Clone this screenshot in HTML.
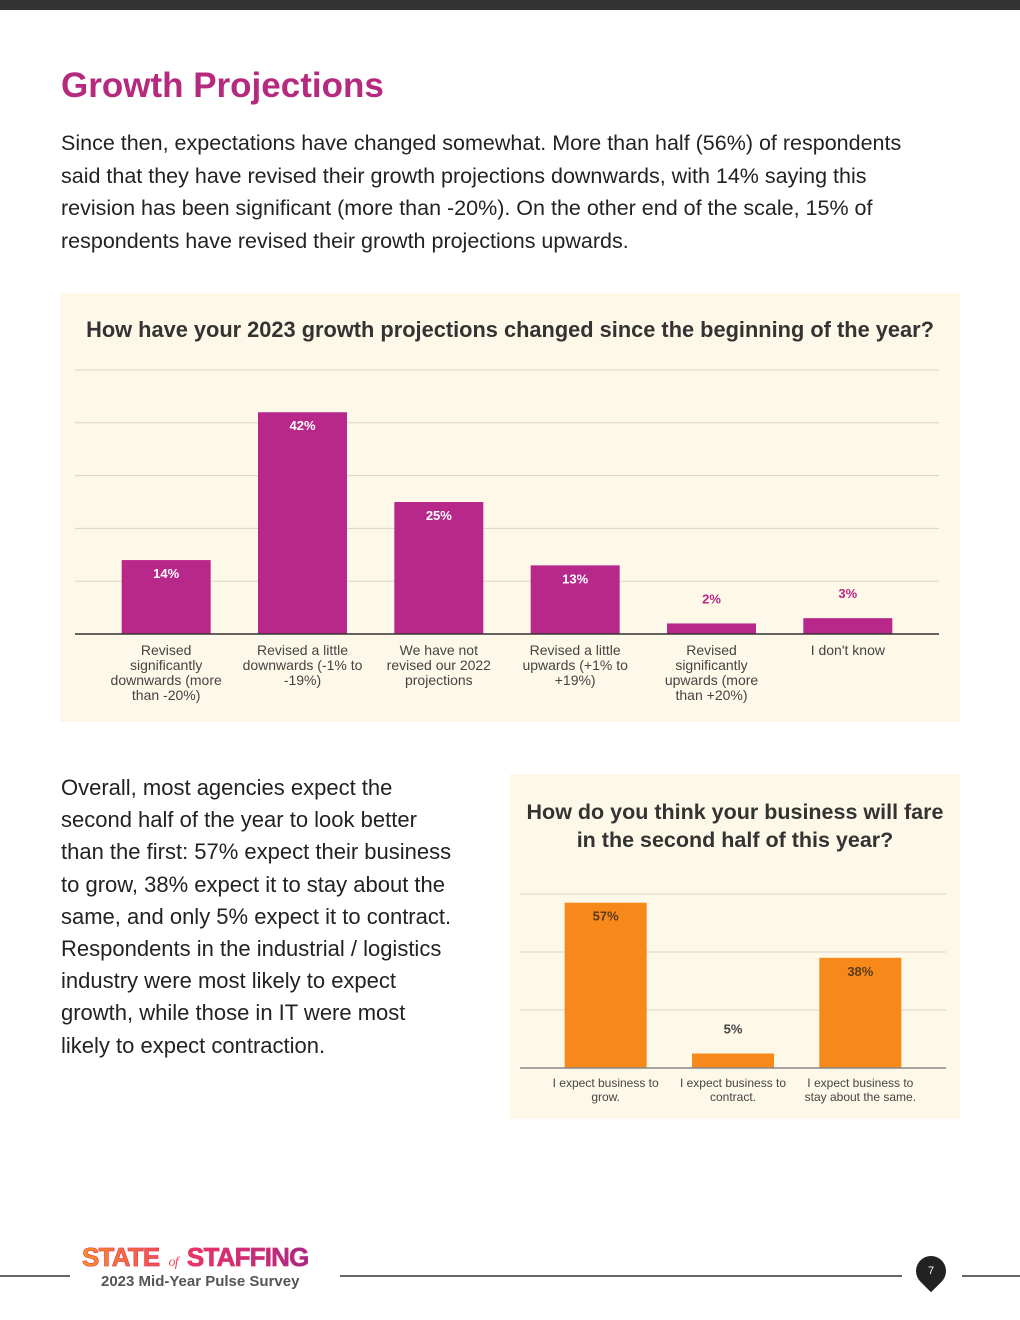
<!DOCTYPE html>
<html><head><meta charset="utf-8">
<style>
body{margin:0;width:1020px;height:1320px;background:#fff;position:relative;overflow:hidden;font-family:"Liberation Sans",sans-serif}
.abs{position:absolute}
.txt{font-family:"Liberation Sans",sans-serif;color:#222}
</style></head><body>
<div class="abs" style="left:0;top:0;width:1020px;height:10px;background:#333"></div>
<div class="abs" style="left:61px;top:66px;font-size:35px;font-weight:bold;color:#b5297f">Growth Projections</div>
<div class="abs txt" style="left:61px;top:127px;width:885px;font-size:21.5px;line-height:32.5px">Since then, expectations have changed somewhat. More than half (56%) of respondents said that they have revised their growth projections downwards, with 14% saying this revision has been significant (more than -20%). On the other end of the scale, 15% of respondents have revised their growth projections upwards.</div>

<div class="abs" style="left:60px;top:293px;width:900px;height:429px;background:#fdf8e7"></div>
<div class="abs" style="left:60px;top:317px;width:900px;text-align:center;font-size:21.8px;font-weight:bold;color:#333">How have your 2023 growth projections changed since the beginning of the year?</div>

<div class="abs txt" style="left:61px;top:772px;width:392px;font-size:22px;line-height:32.2px">Overall, most agencies expect the second half of the year to look better than the first: 57% expect their business to grow, 38% expect it to stay about the same, and only 5% expect it to contract. Respondents in the industrial / logistics industry were most likely to expect growth, while those in IT were most likely to expect contraction.</div>

<div class="abs" style="left:510px;top:774px;width:450px;height:345px;background:#fdf8e7"></div>
<div class="abs" style="left:510px;top:798px;width:450px;text-align:center;font-size:21.5px;line-height:28px;font-weight:bold;color:#333">How do you think your business will fare<br>in the second half of this year?</div>

<svg class="abs" id="c1" style="left:0;top:0" width="1020" height="1320"></svg>

<div class="abs" style="left:0;top:1275px;width:70px;height:2px;background:#666"></div>
<div class="abs" style="left:340px;top:1275px;width:562px;height:2px;background:#666"></div>
<div class="abs" style="left:962px;top:1275px;width:58px;height:2px;background:#666"></div>
<div class="abs" style="left:82px;top:1242px;font-size:26px;font-weight:900;letter-spacing:-0.8px;-webkit-text-stroke:0.6px #e8326a;background:linear-gradient(90deg,#f7941d,#e8326a 50%,#9b2a8f);-webkit-background-clip:text;color:transparent">STATE <span style="font-family:'Liberation Serif',serif;font-style:italic;font-size:14px;font-weight:normal;-webkit-text-stroke:0;text-decoration:underline">&nbsp;of&nbsp;</span> STAFFING</div>
<div class="abs" style="left:101px;top:1273px;font-size:15px;font-weight:bold;color:#555">2023 Mid-Year Pulse Survey</div>
<div class="abs" style="left:916px;top:1256px;width:30px;height:30px;background:#222;border-radius:50% 50% 50% 0;transform:rotate(-45deg)"></div>
<div class="abs" style="left:916px;top:1265px;width:30px;text-align:center;color:#fff;font-size:11px">7</div>

<script>
const cat1 = ["Revised significantly downwards (more than -20%)","Revised a little downwards (-1% to -19%)","We have not revised our 2022 projections","Revised a little upwards (+1% to +19%)","Revised significantly upwards (more than +20%)","I don't know"];
const lines1 = [["Revised","significantly","downwards (more","than -20%)"],["Revised a little","downwards (-1% to","-19%)"],["We have not","revised our 2022","projections"],["Revised a little","upwards (+1% to","+19%)"],["Revised","significantly","upwards (more","than +20%)"],["I don't know"]];
const val1 = [14,42,25,13,2,3];
const ticks1 = [0,10,20,30,40,50];
const cat2 = ["I expect business to grow.","I expect business to contract.","I expect business to stay about the same."];
const lines2 = [["I expect business to","grow."],["I expect business to","contract."],["I expect business to","stay about the same."]];
const val2 = [57,5,38];
const ticks2 = [0,20,40,60];

const NS="http://www.w3.org/2000/svg";
const svg=document.getElementById('c1');
function mk(t,a,p){const e=document.createElementNS(NS,t);for(const k in a)e.setAttribute(k,a[k]);(p||svg).appendChild(e);return e;}
function draw(o){
  const y=v=>o.base-(v/o.max)*o.h;
  const step=(o.x1-o.x0)/o.cats.length;
  const x=i=>o.x0+step*(i+0.5);
  o.ticks.forEach(t=>{if(t===0)return;
    const g=mk('line',{x1:o.gx0,x2:o.gx1,y1:y(t),y2:y(t),stroke:'#d8d4c8','stroke-width':1});
    
    });
  o.vals.forEach((v,i)=>{
    const r=mk('rect',{x:x(i)-o.bw/2,y:y(v),width:o.bw,height:o.base-y(v),fill:o.color});
    
    
    const inside=(o.base-y(v))>40;
    const t=mk('text',{x:x(i),y:inside?y(v)+18:y(v)-20,'text-anchor':'middle','font-size':13,'font-weight':'bold',fill:inside?o.inColor:o.outColor,'font-family':'Liberation Sans, sans-serif'});
    t.textContent=v+'%';
    
    
    o.lines[i].forEach((s,j)=>{const tt=mk('text',{x:x(i),y:o.base+o.ly+j*o.lh,'text-anchor':'middle','font-size':o.fs,fill:'#444','font-family':'Liberation Sans, sans-serif'});tt.textContent=s;
      
      });
  });
  const a=mk('line',{x1:o.gx0,x2:o.gx1,y1:o.base,y2:o.base,stroke:o.axis,'stroke-width':1.5});
  
  
}
draw({p:'chart1',cats:cat1,vals:val1,lines:lines1,ticks:ticks1,max:50,x0:98,x1:916,gx0:75,gx1:939,base:634,h:264,bw:89,color:'#b8278a',inColor:'#fff',outColor:'#b8278a',ly:21,lh:15,fs:14,axis:'#333'});
draw({p:'chart2',cats:cat2,vals:val2,lines:lines2,ticks:ticks2,max:60,x0:542,x1:924,gx0:520,gx1:946,base:1068,h:174,bw:82,color:'#f7891a',inColor:'#5a3a1a',outColor:'#444',ly:19,lh:14,fs:12,axis:'#888'});
</script>
</body></html>
